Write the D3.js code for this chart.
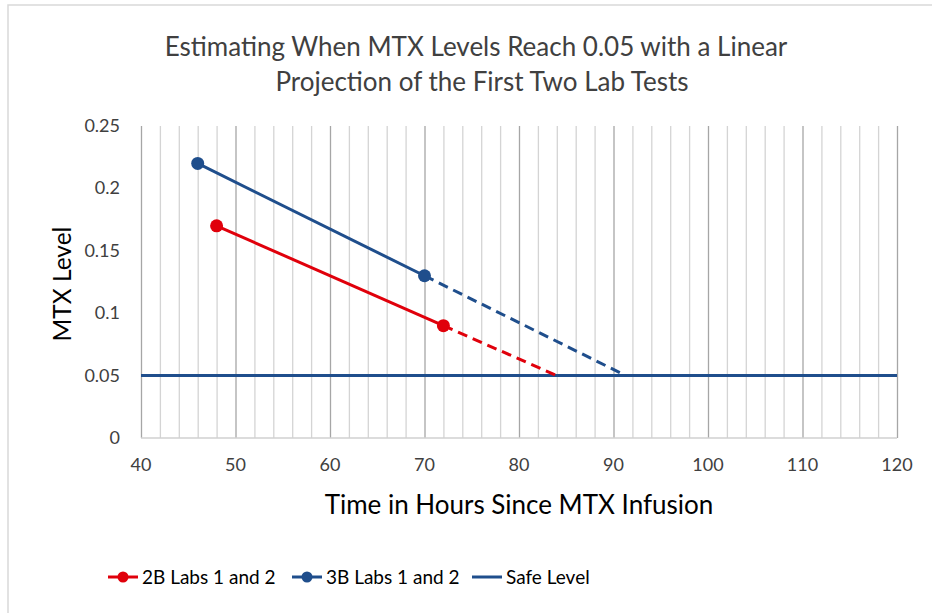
<!DOCTYPE html>
<meta charset="utf-8">
<script src="https://cdn.jsdelivr.net/npm/d3@7"></script>
<style>
body { margin: 0; background: #fff; }
text { font-family: Lato, "Open Sans", sans-serif; fill: #404040; }
</style>
<body>
<script>

var width = 932
var height = 613

// data
var lab2B = [{t: 48, v: 0.17}, {t: 72, v: 0.09}]
var proj2B = [{t: 72, v: 0.09}, {t: 84, v: 0.05}]
var lab3B = [{t: 46, v: 0.22}, {t: 70, v: 0.13}]
var proj3B = [{t: 70, v: 0.13}, {t: 91.3, v: 0.05}]
var safe = [{t: 40, v: 0.05}, {t: 120, v: 0.05}]

var xTicks = [40, 50, 60, 70, 80, 90, 100, 110, 120]
var yTicks = [0, 0.05, 0.1, 0.15, 0.2, 0.25]
var legendNames = ["2B Labs 1 and 2", "3B Labs 1 and 2", "Safe Level"]

var red = "#e0000b"
var blue = "#1f4e8c"

var svg = d3.select("body").append("svg")
            .attr("width", width)
            .attr("height", height)

// chart border
svg.append("rect")
   .attr("x", 8).attr("y", 5)
   .attr("width", width).attr("height", height)
   .style("fill", "none")
   .style("stroke", "#d9d9d9")
   .style("stroke-width", 1.5)

var x = d3.scaleLinear().domain([40, 120]).range([141, 897])
var y = d3.scaleLinear().domain([0, 0.25]).range([438, 126])

// vertical gridlines, minor every 2 hours, major every 10
var minor = d3.range(40, 121, 2)
svg.append("g").selectAll("line")
   .data(minor)
   .enter().append("line")
   .attr("x1", d => x(d) + 0.5)
   .attr("x2", d => x(d) + 0.5)
   .attr("y1", y(0.25))
   .attr("y2", y(0))
   .style("stroke", d => d % 10 == 0 ? "#a6a6a6" : "#d4d4d4")
   .style("stroke-width", 1.3)

// bottom axis line
svg.append("line")
   .attr("x1", x(40)).attr("x2", x(120))
   .attr("y1", y(0)).attr("y2", y(0))
   .style("stroke", "#d0d0d0")
   .style("stroke-width", 1.5)

// tick labels
svg.append("g").selectAll("text")
   .data(xTicks)
   .enter().append("text")
   .attr("x", d => x(d))
   .attr("y", y(0) + 33)
   .style("text-anchor", "middle")
   .style("font-size", "18px")
   .text(d => d)

svg.append("g").selectAll("text")
   .data(yTicks)
   .enter().append("text")
   .attr("x", 120)
   .attr("y", d => y(d) + 6)
   .style("text-anchor", "end")
   .style("font-size", "18px")
   .text(d => d)

// titles
svg.append("text")
   .attr("x", 476).attr("y", 56)
   .style("text-anchor", "middle")
   .style("font-size", "26px")
   .text("Estimating When MTX Levels Reach 0.05 with a Linear")
svg.append("text")
   .attr("x", 482).attr("y", 91)
   .style("text-anchor", "middle")
   .style("font-size", "26px")
   .text("Projection of the First Two Lab Tests")

svg.append("text")
   .attr("transform", "translate(71," + 284 + ") rotate(-90)")
   .style("text-anchor", "middle")
   .style("font-size", "24.5px")
   .style("fill", "#000")
   .text("MTX Level")

svg.append("text")
   .attr("x", 519).attr("y", 514)
   .style("text-anchor", "middle")
   .style("font-size", "26px")
   .style("fill", "#000")
   .text("Time in Hours Since MTX Infusion")

var line = d3.line().x(d => x(d.t)).y(d => y(d.v))

svg.append("path").attr("d", line(safe))
   .style("stroke", blue).style("stroke-width", 3).style("fill", "none")

function series(lab, proj, color) {
  svg.append("path").attr("d", line(proj))
     .style("stroke", color).style("stroke-width", 3)
     .style("stroke-dasharray", "10 6").style("fill", "none")
  svg.append("path").attr("d", line(lab))
     .style("stroke", color).style("stroke-width", 3).style("fill", "none")
  svg.append("g").selectAll("circle")
     .data(lab)
     .enter().append("circle")
     .attr("cx", d => x(d.t))
     .attr("cy", d => y(d.v))
     .attr("r", 6.5)
     .style("fill", color)
}

series(lab2B, proj2B, red)
series(lab3B, proj3B, blue)

// legend
var legendX = [108, 292, 472]
var legendColors = [red, blue, blue]
var lg = svg.append("g").selectAll("g")
            .data(legendNames)
            .enter().append("g")
            .attr("transform", (d, i) => "translate(" + legendX[i] + ",577)")
lg.append("line")
  .attr("x1", 0).attr("x2", 30)
  .attr("y1", 0).attr("y2", 0)
  .style("stroke", (d, i) => legendColors[i])
  .style("stroke-width", 3)
lg.filter((d, i) => i < 2).append("circle")
  .attr("cx", 15).attr("cy", 0).attr("r", 5.5)
  .style("fill", (d, i) => legendColors[i])
lg.append("text")
  .attr("x", 34).attr("y", 7)
  .style("font-size", "19px")
  .style("fill", "#000")
  .text(d => d)

</script>
</body>
